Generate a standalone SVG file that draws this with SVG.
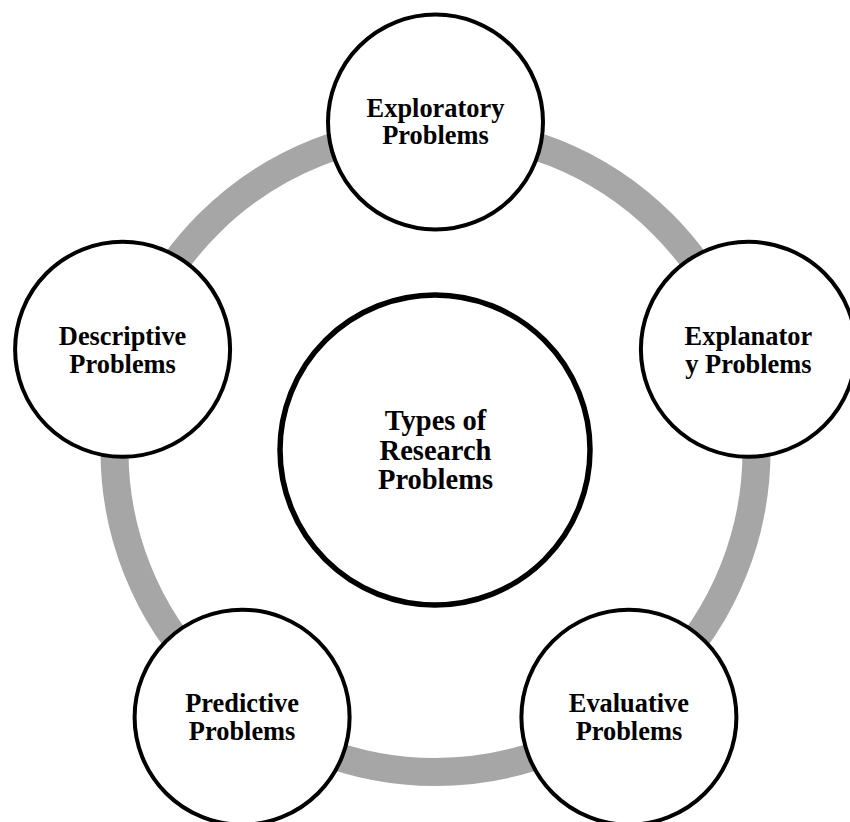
<svg xmlns="http://www.w3.org/2000/svg" width="850" height="822" viewBox="0 0 850 822">
<style>
.node{fill:#ffffff;stroke:#000000;stroke-width:4}
.hub{fill:#ffffff;stroke:#000000;stroke-width:5.5}
.ring{fill:none;stroke:#a6a6a6;stroke-width:28}
.t{font-family:"Liberation Serif","Times New Roman",serif;font-weight:bold;font-size:26.4px;fill:#000000;text-anchor:middle}
.th{font-family:"Liberation Serif","Times New Roman",serif;font-weight:bold;font-size:28.5px;fill:#000000;text-anchor:middle}
</style>
<rect x="0" y="0" width="850" height="822" fill="#ffffff"/>
<g id="connectors">
<circle class="ring" cx="435.5" cy="451" r="321"/>
</g>
<g id="node-center">
<circle class="hub" cx="435" cy="450" r="155"/>
<text class="th" x="435.5" y="430">Types of</text>
<text class="th" x="435.5" y="460">Research</text>
<text class="th" x="435.5" y="489">Problems</text>
</g>
<g id="node-exploratory">
<circle class="node" cx="435.5" cy="122" r="107.5"/>
<text class="t" x="435.5" y="116.5">Exploratory</text>
<text class="t" x="435.5" y="144">Problems</text>
</g>
<g id="node-explanatory">
<circle class="node" cx="748.4" cy="349.3" r="107.5"/>
<text class="t" x="748.4" y="345">Explanator</text>
<text class="t" x="748.4" y="372.5">y Problems</text>
</g>
<g id="node-descriptive">
<circle class="node" cx="122.6" cy="349.3" r="107.5"/>
<text class="t" x="122.6" y="345">Descriptive</text>
<text class="t" x="122.6" y="372.5">Problems</text>
</g>
<g id="node-predictive">
<circle class="node" cx="242.1" cy="717.2" r="107.5"/>
<text class="t" x="242.1" y="711.7">Predictive</text>
<text class="t" x="242.1" y="739.5">Problems</text>
</g>
<g id="node-evaluative">
<circle class="node" cx="628.9" cy="717.2" r="107.5"/>
<text class="t" x="628.9" y="711.7">Evaluative</text>
<text class="t" x="628.9" y="739.5">Problems</text>
</g>
</svg>
